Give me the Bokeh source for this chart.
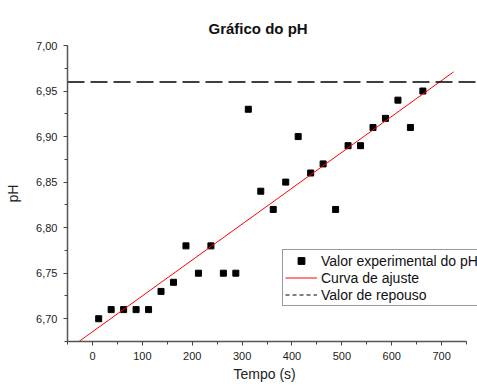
from bokeh.plotting import figure
from bokeh.models import (Range1d, SingleIntervalTicker, CustomJSTickFormatter,
                          Legend, LegendItem, Title)
from bokeh.embed import file_html
from bokeh.resources import INLINE

# ---- data ----
tempo = [12.5, 37.5, 62.5, 87.5, 112.5, 137.5, 162.5, 187.5, 212.5, 237.5,
         262.5, 287.5, 312.5, 337.5, 362.5, 387.5, 412.5, 437.5, 462.5, 487.5,
         512.5, 537.5, 562.5, 587.5, 612.5, 637.5, 662.5]
ph = [6.70, 6.71, 6.71, 6.71, 6.71, 6.73, 6.74, 6.78, 6.75, 6.78,
      6.75, 6.75, 6.93, 6.84, 6.82, 6.85, 6.90, 6.86, 6.87, 6.82,
      6.89, 6.89, 6.91, 6.92, 6.94, 6.91, 6.95]
fit_x = [-27, 724]
fit_y = [6.675, 6.971]
repouso = 6.96

x_start, x_end = -50, 772
y_start, y_end = 6.675, 7.0

FONT = "Liberation Sans"

p = figure(width=477, height=387, output_backend="svg", toolbar_location=None,
           x_range=Range1d(x_start, x_end), y_range=Range1d(y_start, y_end),
           min_border_left=67, min_border_right=0, min_border_top=45,
           min_border_bottom=46, outline_line_color=None,
           title="Gráfico do pH")
p.grid.visible = False
p.title.text_font = FONT
p.title.text_font_size = "15px"
p.title.text_font_style = "bold"
p.title.align = "left"
p.title.offset = 141
p.title.standoff = 17
p.title.text_color = "#111111"

r_pts = p.scatter(tempo, ph, marker="square", size=6, color="black")
r_fit = p.line(fit_x, fit_y, line_color="#ff0000", line_width=1)
r_rep = p.line([x_start, x_end], [repouso, repouso], line_color="black",
               line_width=1.5, line_dash="17 6")
# legend-only sample of the rest line (single point: draws nothing in the plot)
r_rep_leg = p.line(x=[x_start], y=[repouso], line_color="black",
                   line_width=1, line_dash="4 3")

for ax in (p.xaxis[0], p.yaxis[0]):
    ax.axis_line_color = "#555555"
    ax.axis_line_width = 1.5
    ax.major_tick_line_color = "#444444"
    ax.minor_tick_line_color = "#444444"
    ax.major_tick_in = 0
    ax.major_tick_out = 4
    ax.minor_tick_in = 0
    ax.minor_tick_out = 3
    ax.major_label_text_font = FONT
    ax.major_label_text_font_size = "11px"
    ax.major_label_text_color = "#222222"
    ax.axis_label_text_font = FONT
    ax.axis_label_text_font_size = "14px"
    ax.axis_label_text_font_style = "normal"
    ax.axis_label_text_color = "#222222"

p.xaxis[0].ticker = SingleIntervalTicker(interval=100, num_minor_ticks=2)
p.xaxis[0].bounds = (-50, 750)
p.xaxis[0].major_label_standoff = 6

xlabel = Title(text="Tempo (s)", align="left", offset=166, standoff=2,
               text_font=FONT, text_font_size="14px", text_font_style="normal",
               text_color="#222222")
p.add_layout(xlabel, "below")

p.yaxis[0].ticker = SingleIntervalTicker(interval=0.05, num_minor_ticks=2)
p.yaxis[0].axis_label = "pH"
p.yaxis[0].formatter = CustomJSTickFormatter(code="return tick.toFixed(2).replace('.', ',');")
p.yaxis[0].major_label_standoff = 6
p.yaxis[0].axis_label_standoff = 12

legend = Legend(items=[
    LegendItem(label="Valor experimental do pH", renderers=[r_pts]),
    LegendItem(label="Curva de ajuste", renderers=[r_fit]),
    LegendItem(label="Valor de repouso", renderers=[r_rep_leg]),
], location=(215, 35))
legend.label_text_font = FONT
legend.label_text_font_size = "14px"
legend.label_text_color = "#111111"
legend.glyph_width = 32
legend.glyph_height = 17
legend.label_height = 17
legend.label_standoff = 4
legend.spacing = 0
legend.padding = 2
legend.margin = 0
legend.border_line_color = "#333333"
legend.border_line_width = 1
legend.background_fill_alpha = 1
p.add_layout(legend, "center")

open("out.html", "w").write(file_html(p, INLINE))
